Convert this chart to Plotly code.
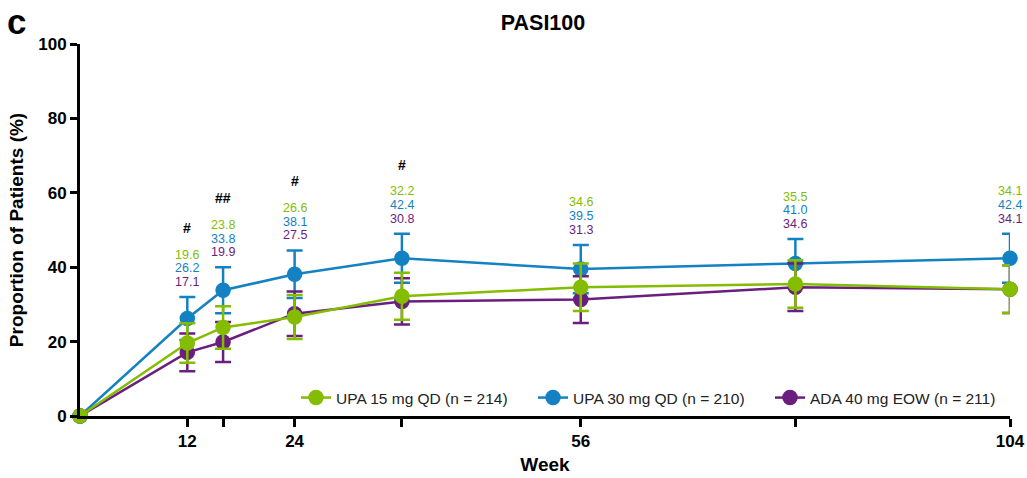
import plotly.graph_objects as go

weeks = [0, 12, 16, 24, 36, 56, 80, 104]
upa15 = [0, 19.6, 23.8, 26.6, 32.2, 34.6, 35.5, 34.1]
upa30 = [0, 26.2, 33.8, 38.1, 42.4, 39.5, 41.0, 42.4]
ada40 = [0, 17.1, 19.9, 27.5, 30.8, 31.3, 34.6, 34.1]
err15 = [None, 5.3, 5.7, 5.9, 6.3, 6.4, 6.4, 6.4]
err30 = [None, 5.8, 6.2, 6.4, 6.6, 6.5, 6.6, 6.6]
err40 = [None, 5.1, 5.4, 6.0, 6.2, 6.3, 6.4, 6.4]
sig_marks = ["", "#", "##", "#", "#", "", "", ""]
names = ["UPA 15 mg QD (n = 214)", "UPA 30 mg QD (n = 210)", "ADA 40 mg EOW (n = 211)"]
tick_vals = [12, 16, 24, 36, 56, 80, 104]
tick_text = ["12", "", "24", "", "56", "", "104"]
y_ticks = [0, 20, 40, 60, 80, 100]

GREEN = "#84BD00"
BLUE = "#1482C2"
PURPLE = "#6A1E7E"
FONT = "Liberation Sans, Arial, sans-serif"

L, R, T, B = 80, 17, 44, 62
W, H = 1027, 478
PW, PH = W - L - R, H - T - B

fig = go.Figure()

def add_series(y, err, color, name, rank):
    fig.add_trace(go.Scatter(
        x=weeks, y=y, mode="lines+markers", name=name, legendrank=rank,
        line=dict(color=color, width=2.5),
        marker=dict(color=color, size=15.5, symbol="circle"),
        error_y=dict(type="data", array=[e if e is not None else 0 for e in err],
                     visible=True, color=color, thickness=2.5, width=8),
        cliponaxis=False,
    ))

add_series(upa30, err30, BLUE, names[1], 2)
add_series(ada40, err40, PURPLE, names[2], 3)
add_series(upa15, err15, GREEN, names[0], 1)

annotations = []
for i, w in enumerate(weeks):
    if w == 0:
        continue
    cap = upa30[i] + err30[i]
    for k, (vals, col) in enumerate([(ada40, PURPLE), (upa30, BLUE), (upa15, GREEN)]):
        annotations.append(dict(
            x=w, y=cap, xref="x", yref="y", text=f"{vals[i]:.1f}",
            showarrow=False, yanchor="middle", yshift=15 + 13.7 * k,
            font=dict(family=FONT, size=12.5, color=col)))
    if sig_marks[i]:
        annotations.append(dict(
            x=w, y=cap, xref="x", yref="y", text=f"<b>{sig_marks[i]}</b>",
            showarrow=False, yanchor="middle", yshift=69,
            font=dict(family=FONT, size=14, color="black")))

annotations.append(dict(
    text="<b>c</b>", xref="paper", yref="paper", x=(5 - L) / PW, y=1 + (T - 21) / PH,
    xanchor="left", yanchor="middle", showarrow=False,
    font=dict(family=FONT, size=35, color="black")))

fig.update_layout(
    width=W, height=H,
    margin=dict(l=L, r=R, t=T, b=B, autoexpand=False),
    paper_bgcolor="white", plot_bgcolor="white",
    font=dict(family=FONT, color="black"),
    title=dict(text="<b>PASI100</b>", x=543 / W, xanchor="center", y=1 - 22 / H, yanchor="middle",
               font=dict(family=FONT, size=21.5, color="black")),
    showlegend=True,
    legend=dict(orientation="h", x=1.0 - 3 / PW, xanchor="right", y=(416 - 398) / PH, yanchor="middle",
                bgcolor="rgba(0,0,0,0)", font=dict(family=FONT, size=15.5, color="#222"),
                entrywidth=192, traceorder="normal"),
    annotations=annotations,
)

fig.update_xaxes(
    range=[0, 104], tickvals=tick_vals, ticktext=[f"<b>{t}</b>" if t else "" for t in tick_text],
    automargin=False,
    showline=True, linecolor="black", linewidth=3,
    ticks="outside", ticklen=8, tickwidth=3, tickcolor="black",
    showgrid=False, zeroline=False,
    tickfont=dict(family=FONT, size=17, color="black", weight="bold"),
    title=dict(text="<b>Week</b>", font=dict(family=FONT, size=19, color="black"), standoff=8),
)
fig.update_yaxes(
    range=[0, 100], tickvals=y_ticks, ticktext=[f"<b>{v}</b>" for v in y_ticks], automargin=False,
    showline=True, linecolor="black", linewidth=3,
    ticks="outside", ticklen=7, tickwidth=3, tickcolor="black",
    showgrid=False, zeroline=False,
    tickfont=dict(family=FONT, size=17, color="black", weight="bold"),
    title=dict(text="<b>Proportion of Patients (%)</b>", font=dict(family=FONT, size=19, color="black"), standoff=10),
)

fig.write_html("out.html", config={"displayModeBar": False},
               post_script="document.body.style.margin='0';document.body.style.overflow='hidden';")
